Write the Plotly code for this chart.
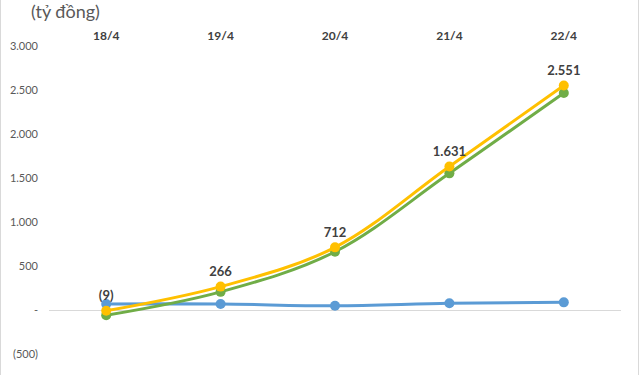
import plotly.graph_objects as go

dates = ["18/4", "19/4", "20/4", "21/4", "22/4"]
total = [-9, 266, 712, 1631, 2551]
green_vals = [-60, 206, 662, 1553, 2466]
blue_vals = [68, 68, 48, 76, 87]
total_labels = ["(9)", "266", "712", "1.631", "2.551"]

y_tickvals = [3000, 2500, 2000, 1500, 1000, 500, 0, -500]
y_ticktext = ["3.000", "2.500", "2.000", "1.500", "1.000", "500", "-", "(500)"]

W, H = 640, 375
ml, mr, mt, mb = 49, 19, 46, 21
pw, ph = W - ml - mr, H - mt - mb

fig = go.Figure()

def add_series(vals, color, text=None):
    fig.add_trace(go.Scatter(
        x=dates, y=vals,
        mode="lines+markers" + ("+text" if text else ""),
        line=dict(color=color, width=3, shape="spline", smoothing=1.0),
        marker=dict(color=color, size=10),
        text=text,
        textposition="top center",
        textfont=dict(family="Lato, Liberation Sans, sans-serif", size=13, color="#404040", weight="bold"),
        cliponaxis=False,
        showlegend=False,
        hoverinfo="skip",
    ))

add_series(blue_vals, "#5B9BD5")
add_series(green_vals, "#70AD47")
add_series(total, "#FFC000", total_labels)

fig.update_layout(
    width=W, height=H,
    margin=dict(l=ml, r=mr, t=mt, b=mb, pad=0, autoexpand=False),
    paper_bgcolor="white", plot_bgcolor="white",
    font=dict(family="Lato, Liberation Sans, sans-serif", color="#595959"),
    title=dict(
        text="(tỷ đồng)", xref="container", yref="container",
        x=31 / W, xanchor="left", y=1 - 12 / H, yanchor="middle",
        font=dict(size=18, color="#595959", family="Lato, Liberation Sans, sans-serif"),
    ),
    xaxis=dict(
        side="top", type="category", range=[-0.5, 4.5], automargin=False,
        showgrid=False, zeroline=False, showline=False, ticks="",
        tickfont=dict(size=12, color="#404040", weight="bold"),
        ticklabelstandoff=3,
    ),
    yaxis=dict(
        range=[-500, 3000], showgrid=False, automargin=False,
        zeroline=True, zerolinecolor="#D9D9D9", zerolinewidth=1,
        showline=False, ticks="",
        tickvals=y_tickvals, ticktext=y_ticktext,
        tickfont=dict(size=11, color="#595959"),
        ticklabelstandoff=10,
    ),
)

# light chart-area borders left and right
for px in (0.5, 638.5):
    xp = (px - ml) / pw
    fig.add_shape(type="line", xref="paper", yref="paper",
                  x0=xp, x1=xp, y0=(mb - H) / ph, y1=(H - mb) / ph,
                  line=dict(color="#D9D9D9", width=1), layer="below")

fig.write_html("out.html", config={"displayModeBar": False},
               post_script="document.body.style.margin='0';")
